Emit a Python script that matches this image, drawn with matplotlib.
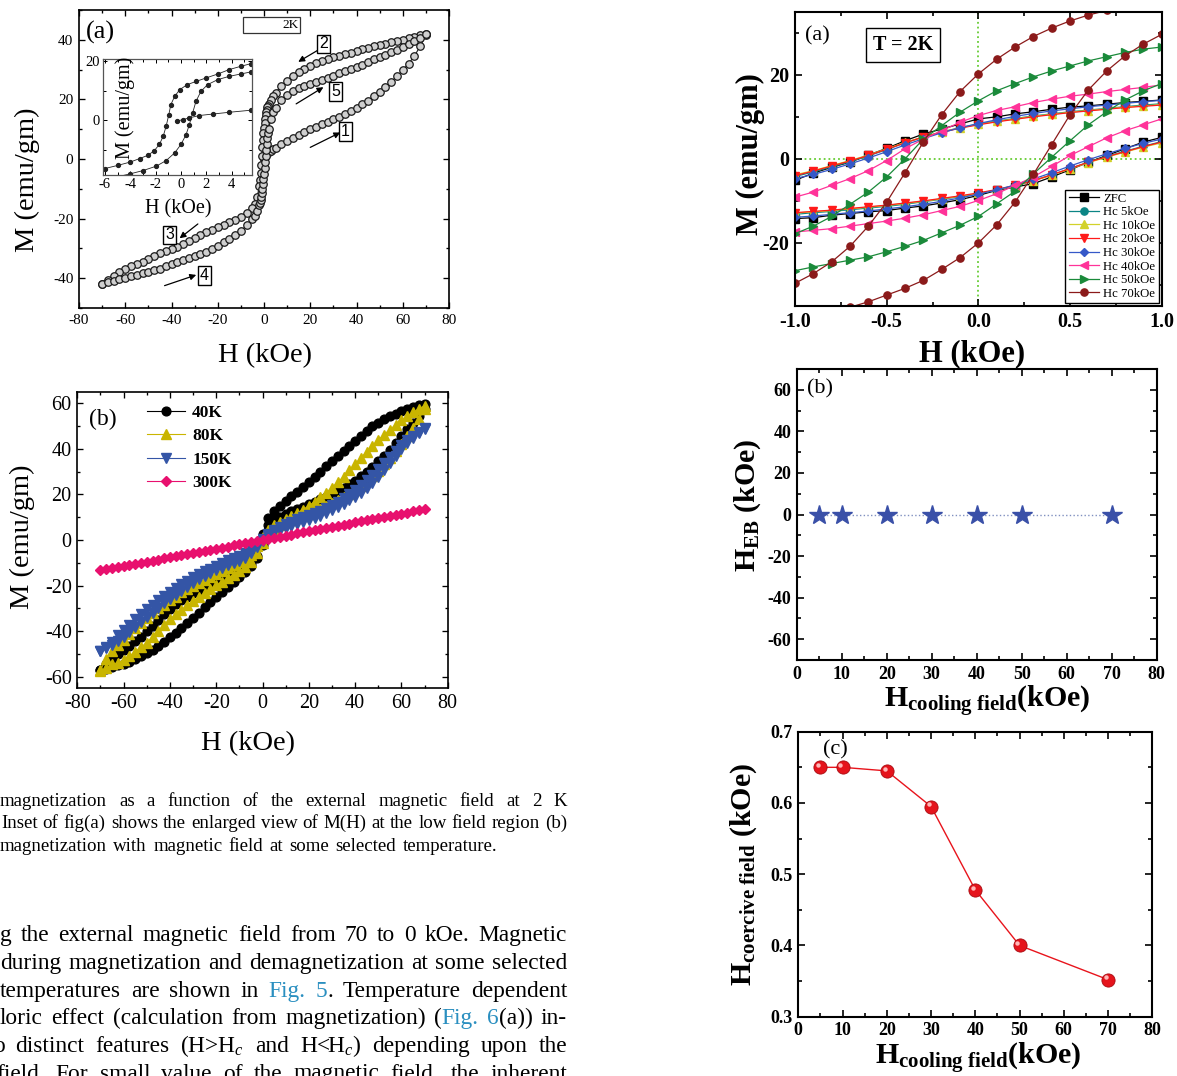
import matplotlib
matplotlib.use("Agg")
import matplotlib.pyplot as plt
from matplotlib.patches import Rectangle
from matplotlib.transforms import ScaledTranslation
from matplotlib.ticker import MultipleLocator
from matplotlib.font_manager import FontProperties

plt.rcParams['font.family'] = ['Liberation Serif', 'DejaVu Serif']
plt.rcParams['mathtext.fontset'] = 'custom'
plt.rcParams['mathtext.rm'] = 'Liberation Serif'
plt.rcParams['mathtext.it'] = 'Liberation Serif:italic'
plt.rcParams['mathtext.bf'] = 'Liberation Serif:bold'
plt.rcParams['axes.unicode_minus'] = False

# ---------------- DATA ----------------
# Fig (a) left: M(H) loop at 2 K
H_A_DESC = [70, 67.5, 65, 62.5, 60, 57.5, 55, 52.5, 50, 47.5, 45, 42.5, 40, 37.5, 35, 32.5, 30, 27.5, 25, 22.5,
            20, 17.5, 15, 12.5, 10, 7.5, 5, 4, 3,
            2, 1.75, 1.5, 1.25, 1, 0.75, 0.5, 0.25, 0, -0.25, -0.5, -0.75, -1, -1.25, -1.5, -1.75, -2,
            -3, -4, -5, -7.5, -10, -12.5, -15, -17.5, -20, -22.5, -25, -27.5, -30, -32.5, -35, -37.5, -40,
            -42.5, -45, -47.5, -50, -52.5, -55, -57.5, -60, -62.5, -65, -67.5, -70]
M_A_DESC = [42.0, 41.5, 41.1, 40.6, 40.1, 39.6, 39.2, 38.7, 38.3, 37.8, 37.3, 36.8, 36.3, 35.7, 35.2, 34.6, 34.1, 33.5, 32.9, 32.2,
            31.3, 30.3, 29.1, 27.9, 26.3, 24.6, 22.2, 21.2, 19.8,
            18.3, 17.8, 17.3, 16.6, 15.8, 14.8, 13.5, 12.2, 10.5, 8.7, 6.5, 4.0, 1.0, -2.0, -4.8, -7.2, -9.2,
            -12.8, -15.0, -16.3, -18.2, -19.4, -20.4, -21.2, -22.1, -22.9, -23.7, -24.6, -25.6, -26.5, -27.5, -28.5, -29.5, -30.3,
            -31.0, -31.7, -32.6, -33.5, -34.4, -35.2, -36.0, -36.9, -38.0, -39.2, -40.6, -42.0]
H_A_ASC = [-70, -67.5, -65, -62.5, -60, -57.5, -55, -52.5, -50, -47.5, -45, -42.5, -40, -37.5, -35, -32.5, -30, -27.5, -25, -22.5,
           -20, -17.5, -15, -12.5, -10, -7.5, -5, -4, -3,
           -2, -1.75, -1.5, -1.25, -1, -0.75, -0.5, -0.25, 0, 0.25, 0.5, 0.75, 1, 1.25, 1.5, 1.75, 2,
           3, 4, 5, 7.5, 10, 12.5, 15, 17.5, 20, 22.5, 25, 27.5, 30, 32.5, 35, 37.5, 40,
           42.5, 45, 47.5, 50, 52.5, 55, 57.5, 60, 62.5, 65, 67.5, 70]
M_A_ASC = [-42.0, -41.3, -40.8, -40.3, -39.9, -39.4, -38.9, -38.4, -37.9, -37.4, -36.8, -36.0, -35.3, -34.6, -33.9, -33.2, -32.6, -31.9, -31.1, -30.1,
           -29.1, -28.0, -26.9, -25.5, -24.1, -22.3, -20.2, -19.0, -17.6,
           -15.5, -14.7, -13.8, -12.8, -11.5, -10.1, -8.5, -6.8, -5.0, -3.0, -1.0, 1.0, 3.0, 5.0, 7.0, 8.6, 10.0,
           13.5, 15.8, 17.2, 19.8, 21.6, 22.9, 23.7, 24.5, 25.2, 25.8, 26.5, 27.3, 28.0, 28.7, 29.4, 30.1, 30.8,
           31.6, 32.5, 33.5, 34.2, 35.0, 35.8, 36.7, 37.7, 38.7, 39.6, 40.6, 41.8]
H_A_VIRGIN = [0, 0.5, 1, 1.5, 2, 3, 4, 5, 7.5, 10, 12.5, 15, 17.5, 20, 22.5, 25, 27.5, 30, 32.5, 35, 37.5, 40,
              42.5, 45, 47.5, 50, 52.5, 55, 57.5, 60, 62.5, 65, 67.5, 70]
M_A_VIRGIN = [0.0, 0.8, 1.5, 2.0, 2.3, 2.8, 3.3, 3.7, 4.9, 6.0, 7.2, 8.2, 9.2, 10.1, 10.9, 11.7, 12.5, 13.3, 14.1, 15.0, 16.1, 17.2,
              18.4, 19.6, 21.0, 22.5, 24.2, 25.9, 27.8, 29.8, 32.0, 34.5, 37.8, 41.5]

# Inset: low-field region
H_IN_DESC = [5.5, 4.7, 3.8, 2.9, 2.0, 1.2, 0.5, -0.1, -0.5, -0.8, -0.96, -1.17, -1.4, -1.7, -2.1, -2.6, -3.25, -4.0, -4.95, -6.0]
M_IN_DESC = [19.2, 18.3, 17.2, 15.7, 14.4, 13.2, 12.1, 10.4, 8.1, 5.3, 1.9, -2.0, -5.4, -8.2, -10.3, -11.9, -13.0, -14.2, -15.3, -16.4]
H_IN_ASC = [-6.0, -5.0, -4.0, -3.0, -1.95, -1.17, -0.5, 0.0, 0.4, 0.66, 0.92, 1.18, 1.57, 2.1, 2.9, 3.8, 4.7, 5.5]
M_IN_ASC = [-20.0, -19.2, -18.2, -17.1, -15.6, -13.7, -11.1, -8.2, -4.9, -1.5, 2.5, 6.4, 9.8, 12.1, 13.8, 14.9, 15.7, 16.4]
H_IN_VIRGIN = [-0.33, 0.14, 0.66, 1.44, 2.5, 3.8, 5.5]
M_IN_VIRGIN = [-0.3, 0.2, 0.8, 1.6, 2.1, 2.7, 3.4]

# Fig (b) left: loops at selected temperatures (field swept 70 -> -70 -> 70)
H_B = [-70, -67.5, -65, -62.5, -60, -57.5, -55, -52.5, -50, -47.5, -45, -42.5, -40, -37.5, -35, -32.5, -30, -27.5, -25,
       -22.5, -20, -17.5, -15, -12.5, -10, -7.5, -5, -2.5, 0, 2.5, 5, 7.5, 10, 12.5, 15, 17.5, 20, 22.5, 25, 27.5, 30,
       32.5, 35, 37.5, 40, 42.5, 45, 47.5, 50, 52.5, 55, 57.5, 60, 62.5, 65, 67.5, 70]
# values listed in order of increasing H (descending branch = upper at H>0)
M40_DESC = [-56.8, -54.3, -52.0, -50.0, -48.3, -46.5, -44.3, -42.3, -40.0, -37.6, -35.0, -32.5, -30.3, -28.2, -26.3, -24.8, -23.3, -21.9, -20.6,
            -19.2, -17.9, -16.6, -15.3, -14.0, -12.7, -11.3, -10.0, -7.0, 2.5, 9.5, 12.5, 14.8, 17.0, 19.1, 21.2, 23.3, 25.5, 27.8, 30.0, 32.3, 34.5,
            36.8, 39.0, 41.3, 43.5, 45.7, 47.8, 49.8, 51.5, 53.0, 54.2, 55.4, 56.5, 57.5, 58.3, 59.0, 59.5]
M40_ASC = [-56.8, -56.4, -55.8, -55.0, -54.2, -53.4, -52.3, -51.0, -49.5, -48.0, -46.5, -44.7, -42.6, -40.6, -38.4, -36.2, -34.0, -31.8, -29.5,
           -27.2, -25.0, -22.8, -20.5, -18.4, -16.3, -14.2, -11.5, -8.0, -2.0, 6.5, 9.0, 10.3, 11.5, 12.5, 13.5, 14.5, 15.6, 16.7, 17.8, 18.9, 20.2,
           21.5, 22.9, 24.4, 26.0, 27.9, 30.0, 32.2, 34.5, 37.0, 39.6, 42.5, 45.5, 48.5, 51.5, 54.5, 57.5]
M80_DESC = [-57.0, -52.0, -48.5, -46.2, -43.8, -41.3, -38.6, -36.3, -34.0, -32.0, -30.0, -28.5, -26.5, -24.8, -23.0, -21.5, -20.0, -18.8, -17.4,
            -16.1, -14.8, -13.5, -12.3, -11.0, -9.8, -8.5, -6.5, -2.5, 1.5, 4.5, 6.5, 7.8, 9.0, 10.4, 11.8, 13.3, 15.0, 16.8, 18.7, 20.8, 23.0,
            25.3, 27.8, 30.5, 33.2, 36.0, 38.7, 41.3, 43.8, 46.2, 48.4, 50.5, 52.4, 54.2, 55.9, 57.5, 58.8]
M80_ASC = [-57.5, -56.0, -54.5, -53.8, -52.8, -51.0, -49.0, -47.0, -45.0, -42.5, -39.8, -37.3, -34.8, -32.6, -30.6, -28.6, -26.7, -25.0, -23.2,
           -21.3, -19.8, -18.3, -16.7, -15.2, -13.7, -12.0, -9.5, -5.5, -1.5, 3.0, 5.0, 6.6, 7.8, 8.7, 9.6, 10.6, 11.6, 12.7, 13.7, 14.9, 16.1,
           17.4, 18.7, 20.2, 21.8, 23.7, 25.7, 28.0, 30.4, 33.2, 36.1, 39.1, 42.2, 45.5, 49.0, 53.0, 57.5]
M150_DESC = [-48.7, -46.8, -44.5, -41.8, -39.5, -37.1, -34.8, -32.6, -30.4, -28.3, -26.3, -24.4, -22.6, -20.9, -19.3, -17.8, -16.3, -15.0, -13.8,
             -12.5, -11.3, -10.0, -8.8, -7.9, -6.8, -5.6, -4.0, -2.0, 0.6, 2.6, 4.4, 5.8, 7.0, 8.0, 9.0, 9.9, 10.8, 11.8, 12.9, 14.1, 15.3,
             16.7, 18.3, 20.0, 21.9, 24.0, 26.2, 28.6, 31.0, 33.6, 36.3, 39.1, 41.6, 43.8, 45.6, 47.3, 49.0]
M150_ASC = [-48.7, -47.4, -45.9, -44.3, -42.5, -40.5, -38.3, -36.1, -33.9, -31.8, -29.8, -27.8, -25.9, -24.0, -22.2, -20.4, -18.8, -17.3, -15.9,
            -14.5, -13.3, -12.2, -11.1, -10.0, -9.0, -7.8, -5.7, -3.0, -0.6, 1.8, 3.3, 4.4, 5.3, 6.1, 6.9, 7.7, 8.6, 9.6, 10.7, 11.9, 13.1,
            14.4, 15.9, 17.4, 19.0, 20.8, 22.8, 25.1, 27.8, 30.6, 33.6, 36.8, 39.8, 42.5, 44.8, 46.8, 48.7]
M300 = [-13.3, -12.9, -12.4, -11.9, -11.4, -10.9, -10.5, -10.0, -9.5, -9.0, -8.6, -8.1, -7.6, -7.1, -6.7, -6.2, -5.7, -5.2, -4.8,
        -4.3, -3.8, -3.3, -2.9, -2.4, -1.9, -1.4, -1.0, -0.5, 0.0, 0.5, 1.0, 1.4, 1.9, 2.4, 2.9, 3.4, 3.8, 4.3, 4.8, 5.3, 5.8,
        6.2, 6.7, 7.2, 7.7, 8.2, 8.6, 9.1, 9.6, 10.1, 10.6, 11.1, 11.5, 12.0, 12.5, 13.0, 13.5]
TEMP_LABELS = ['40K', '80K', '150K', '300K']

# Right (a): low-field loops after field cooling, T = 2K
H_R = [-1.0, -0.9, -0.8, -0.7, -0.6, -0.5, -0.4, -0.3, -0.2, -0.1, 0.0, 0.1, 0.2, 0.3, 0.4, 0.5, 0.6, 0.7, 0.8, 0.9, 1.0]
ZFC_UP = [-5.1, -3.4, -2.0, -0.8, 0.9, 2.5, 4.3, 5.9, 7.1, 8.3, 9.5, 10.0, 10.7, 11.2, 11.8, 12.3, 12.6, 13.0, 13.4, 13.7, 14.0]
ZFC_LO = [-14.2, -14.0, -13.4, -13.0, -12.6, -12.3, -11.7, -11.2, -10.5, -9.7, -8.7, -7.5, -6.7, -5.9, -4.3, -2.6, -0.8, 0.8, 2.4, 4.0, 5.1]
HC5_UP = [-4.2, -3.1, -1.9, -0.7, 0.7, 2.2, 3.8, 5.2, 6.4, 7.4, 8.3, 9.0, 9.6, 10.2, 10.7, 11.2, 11.6, 12.0, 12.4, 12.8, 13.1]
HC5_LO = [-13.2, -12.8, -12.5, -12.1, -11.7, -11.3, -10.8, -10.2, -9.6, -9.0, -8.3, -7.4, -6.4, -5.2, -3.8, -2.3, -0.8, 0.6, 1.8, 3.0, 4.1]
HC10_UP = [-3.8, -2.8, -1.6, -0.4, 0.9, 2.4, 3.9, 5.2, 6.4, 7.4, 8.2, 8.9, 9.5, 10.1, 10.6, 11.1, 11.5, 11.9, 12.3, 12.6, 12.9]
HC10_LO = [-12.9, -12.6, -12.3, -11.9, -11.5, -11.1, -10.6, -10.1, -9.5, -8.9, -8.2, -7.4, -6.4, -5.2, -3.9, -2.4, -0.9, 0.4, 1.6, 2.8, 3.8]
HC20_UP = [-4.0, -2.9, -1.7, -0.5, 0.8, 2.3, 3.8, 5.2, 6.3, 7.3, 8.1, 8.8, 9.4, 10.0, 10.5, 11.0, 11.4, 11.8, 12.2, 12.5, 12.8]
HC20_LO = [-12.8, -12.5, -12.2, -11.8, -11.4, -11.0, -10.5, -10.0, -9.4, -8.8, -8.1, -7.3, -6.3, -5.2, -3.8, -2.3, -0.8, 0.5, 1.7, 2.9, 4.0]
HC30_UP = [-4.7, -3.7, -2.5, -1.2, 0.2, 1.7, 3.3, 4.8, 6.2, 7.4, 8.4, 9.3, 10.1, 10.8, 11.4, 11.9, 12.4, 12.8, 13.2, 13.6, 13.9]
HC30_LO = [-13.9, -13.6, -13.2, -12.8, -12.4, -11.9, -11.4, -10.8, -10.1, -9.3, -8.4, -7.4, -6.2, -4.8, -3.3, -1.7, -0.2, 1.2, 2.5, 3.7, 4.7]
HC40_UP = [-9.1, -7.9, -6.3, -4.7, -2.8, -0.4, 2.4, 4.7, 6.7, 8.7, 10.3, 11.5, 12.4, 13.4, 14.2, 14.9, 15.4, 16.0, 16.5, 17.0, 17.6]
HC40_LO = [-17.4, -17.0, -16.6, -16.0, -15.4, -14.8, -14.1, -13.3, -12.3, -11.3, -9.9, -8.3, -6.3, -4.3, -1.8, 0.8, 2.9, 5.0, 6.7, 8.1, 9.5]
HC50_UP = [-17.8, -16.0, -13.7, -10.8, -7.9, -4.3, 0.0, 4.7, 7.9, 11.1, 13.8, 16.2, 17.9, 19.5, 20.9, 22.1, 23.3, 24.3, 25.3, 26.1, 26.6]
HC50_LO = [-26.6, -25.7, -24.9, -24.1, -23.3, -22.1, -20.8, -19.4, -17.6, -15.8, -13.7, -10.7, -7.7, -3.6, 0.4, 4.3, 8.1, 11.2, 14.0, 16.2, 17.9]
HC70_UP = [-29.6, -27.3, -24.5, -20.8, -16.0, -10.3, -3.3, 4.0, 10.5, 16.0, 20.2, 23.7, 26.6, 29.1, 31.1, 32.8, 34.2, 35.3, 36.4, 37.2, 37.9]
HC70_LO = [-37.9, -37.2, -36.4, -35.3, -34.0, -32.4, -30.8, -28.9, -26.3, -23.5, -20.0, -15.7, -10.3, -3.7, 3.4, 10.5, 16.4, 20.9, 24.5, 27.3, 29.6]
FC_LABELS = ['ZFC', 'Hc 5kOe', 'Hc 10kOe', 'Hc 20kOe', 'Hc 30kOe', 'Hc 40kOe', 'Hc 50kOe', 'Hc 70kOe']

# Right (b), (c)
H_COOL = [5, 10, 20, 30, 40, 50, 70]
H_EB = [0, 0, 0, 0, 0, 0, 0]
H_COERCIVE = [0.650, 0.650, 0.645, 0.595, 0.478, 0.400, 0.352]

# ---------------- FIGURE ----------------
W, H = 1177, 1076
fig = plt.figure(figsize=(W / 100, H / 100), dpi=100)


def rect(l, t, r, b):
    return [l / W, 1 - b / H, (r - l) / W, (b - t) / H]


def fx(x):
    return x / W


def fy(y):
    return 1 - y / H


def style_axes(ax, lw=1.2, size=10.5, bold=False, maj=4, mnr=2.5):
    for s in ax.spines.values():
        s.set_linewidth(lw)
    ax.tick_params(which='both', direction='in', top=True, right=True, width=lw * 0.8)
    ax.tick_params(which='major', length=maj, labelsize=size, pad=4)
    ax.tick_params(which='minor', length=mnr)
    if bold:
        for lab in ax.get_xticklabels() + ax.get_yticklabels():
            lab.set_fontweight('bold')


# ---- Left (a)
ax_a = fig.add_axes(rect(79, 10, 449, 308))
bead = dict(marker='o', ms=5.4, mfc='#cfcfcf', mec='#1a1a1a', mew=0.9, color='#1a1a1a', lw=0.8)
ax_a.plot(H_A_VIRGIN, M_A_VIRGIN, **bead)
ax_a.plot(H_A_DESC, M_A_DESC, **bead)
ax_a.plot(H_A_ASC, M_A_ASC, **bead)
ax_a.set_xlim(-80, 80)
ax_a.set_ylim(-50, 50)
ax_a.xaxis.set_major_locator(MultipleLocator(20))
ax_a.xaxis.set_minor_locator(MultipleLocator(10))
ax_a.yaxis.set_major_locator(MultipleLocator(20))
ax_a.yaxis.set_minor_locator(MultipleLocator(10))
style_axes(ax_a, lw=1.2, size=11)
ax_a.text(-70.6, 42.6, '(a)', fontsize=19, ha='center', va='center')
ax_a.add_patch(Rectangle((-9.1, 42.3), 24.8, 5.4, fill=False, lw=0.9, ec='#333333'))
ax_a.text(11.3, 45.0, '2K', fontsize=9.5, ha='center', va='center')
box = dict(boxstyle='square,pad=0.12', fc='white', ec='black', lw=1.0)
numfont = dict(fontsize=11.5, family='Liberation Sans', ha='center', va='center', bbox=box)
arrow = dict(arrowstyle='-|>', color='black', lw=0.9, mutation_scale=9, shrinkA=0, shrinkB=0)
for lab, pos, tail, head in [('2', (25.7, 38.6), (23.5, 36.6), (14.8, 32.6)),
                             ('5', (30.9, 22.6), (13.9, 18.5), (25.7, 24.1)),
                             ('1', (35.2, 9.1), (20.0, 3.9), (33.0, 8.9)),
                             ('3', (-40.9, -25.5), (-28.6, -21.8), (-36.5, -26.6)),
                             ('4', (-25.7, -39.2), (-43.0, -42.5), (-29.3, -38.9))]:
    ax_a.annotate('', xy=head, xytext=tail, arrowprops=arrow)
    ax_a.text(pos[0], pos[1], lab, **numfont)

# ---- Inset
ins = fig.add_axes(rect(103, 59, 252, 175))
ins.plot(H_IN_VIRGIN, M_IN_VIRGIN, 'o-', color='#222222', ms=2.8, lw=0.6)
ins.plot(H_IN_DESC, M_IN_DESC, 'o-', color='#222222', ms=2.8, lw=0.6)
ins.plot(H_IN_ASC, M_IN_ASC, 'o-', color='#222222', ms=2.8, lw=0.6)
ins.set_xlim(-6.15, 5.6)
ins.set_ylim(-18.6, 20.8)
ins.xaxis.set_major_locator(MultipleLocator(2))
ins.xaxis.set_minor_locator(MultipleLocator(1))
ins.yaxis.set_major_locator(MultipleLocator(20))
ins.yaxis.set_minor_locator(MultipleLocator(10))
style_axes(ins, lw=0.9, size=10.5, maj=3, mnr=2)
ins.tick_params(pad=2)
for s in ins.spines.values():
    s.set_color('#555555')
fig.text(fx(125.5), fy(108), 'M (emu/gm)', rotation=90, ha='center', va='center', fontsize=14.5)
fig.text(fx(178), fy(209), 'H (kOe)', ha='center', va='center', fontsize=14.5)

fig.text(fx(27), fy(180), 'M (emu/gm)', rotation=90, ha='center', va='center', fontsize=20.5)
fig.text(fx(265), fy(356), 'H (kOe)', ha='center', va='center', fontsize=20.5)

# ---- Left (b)
ax_b = fig.add_axes(rect(77.3, 391.7, 447.7, 688.3))
series_b = [
    (M40_DESC, M40_ASC, '#000000', 'o', 6.3, TEMP_LABELS[0]),
    (M80_DESC, M80_ASC, '#c9b500', '^', 7.2, TEMP_LABELS[1]),
    (M150_DESC, M150_ASC, '#3455a6', 'v', 7.2, TEMP_LABELS[2]),
]
handles = []
for md, ma, col, mk, ms, lab in series_b:
    ax_b.plot(H_B[::-1], md[::-1], marker=mk, ms=ms, color=col, mec=col, lw=0.8)
    h, = ax_b.plot(H_B, ma, marker=mk, ms=ms, color=col, mec=col, lw=0.8)
    handles.append(h)
h, = ax_b.plot(H_B, M300, marker='D', ms=5.3, color='#e8106e', mec='#e8106e', lw=0.8)
handles.append(h)
ax_b.set_xlim(-80, 80)
ax_b.set_ylim(-65, 65)
ax_b.xaxis.set_major_locator(MultipleLocator(20))
ax_b.xaxis.set_minor_locator(MultipleLocator(10))
ax_b.yaxis.set_major_locator(MultipleLocator(20))
ax_b.yaxis.set_minor_locator(MultipleLocator(10))
style_axes(ax_b, lw=1.2, size=14.5)
ax_b.text(-69, 53, '(b)', fontsize=17, ha='center', va='center')
ax_b.legend(handles, TEMP_LABELS, loc='upper left', bbox_to_anchor=(0.165, 0.985), frameon=False,
            prop=FontProperties(family='Liberation Serif', weight='bold', size=12.5),
            handlelength=2.2, handletextpad=0.4, labelspacing=0.42, borderpad=0)
fig.text(fx(22), fy(537), 'M (emu/gm)', rotation=90, ha='center', va='center', fontsize=20.5)
fig.text(fx(248), fy(744), 'H (kOe)', ha='center', va='center', fontsize=20.5)

# ---- Right (a)
ax_ra = fig.add_axes(rect(795, 11.7, 1161.7, 306))
ax_ra.axhline(0, color='#66cc33', ls=':', lw=1.3, zorder=0)
ax_ra.axvline(0, color='#66cc33', ls=':', lw=1.3, zorder=0)
fc_series = [
    (ZFC_UP, ZFC_LO, '#000000', 's'),
    (HC5_UP, HC5_LO, '#0b8585', 'o'),
    (HC10_UP, HC10_LO, '#d2d22a', '^'),
    (HC20_UP, HC20_LO, '#ff1a1a', 'v'),
    (HC30_UP, HC30_LO, '#3558c8', 'D'),
    (HC40_UP, HC40_LO, '#ff3399', '<'),
    (HC50_UP, HC50_LO, '#1a8a3a', '>'),
    (HC70_UP, HC70_LO, '#8b1a1a', 'o'),
]
fc_handles = []
for (up, lo, col, mk), lab in zip(fc_series, FC_LABELS):
    ms = 5.2 if mk != 'D' else 4.5
    h, = ax_ra.plot(H_R, up, marker=mk, ms=ms, color=col, mec=col, lw=0.9, label=lab)
    ax_ra.plot(H_R, lo, marker=mk, ms=ms, color=col, mec=col, lw=0.9)
    fc_handles.append(h)
ax_ra.set_xlim(-1, 1)
ax_ra.set_ylim(-35, 35)
ax_ra.xaxis.set_major_locator(MultipleLocator(0.5))
ax_ra.xaxis.set_minor_locator(MultipleLocator(0.25))
ax_ra.yaxis.set_major_locator(MultipleLocator(20))
ax_ra.yaxis.set_minor_locator(MultipleLocator(10))
style_axes(ax_ra, lw=1.5, size=14.5, bold=True, maj=5, mnr=3)
leg = ax_ra.legend(fc_handles, FC_LABELS, loc='lower right', fontsize=9.2, frameon=True, fancybox=False,
                   edgecolor='black', framealpha=1, borderpad=0.25, labelspacing=0.12,
                   handlelength=2.4, handletextpad=0.3, borderaxespad=0.25)
leg.get_frame().set_linewidth(1.0)
ax_ra.text(-0.88, 29.2, '(a)', fontsize=16, ha='center', va='center')
ax_ra.text(-0.41, 27.1, 'T = 2K', fontsize=14.5, fontweight='bold', ha='center', va='center',
           bbox=dict(boxstyle='square,pad=0.35', fc='white', ec='black', lw=1.0))
fig.text(fx(750), fy(154), 'M (emu/gm)', rotation=90, ha='center', va='center', fontsize=22, fontweight='bold')
fig.text(fx(972), fy(361), 'H (kOe)', ha='center', va='baseline', fontsize=22, fontweight='bold')

# ---- Right (b)
ax_rb = fig.add_axes(rect(796.7, 369, 1156.7, 660))
ax_rb.plot(H_COOL, H_EB, ':', color='#8090c0', lw=1.0)
ax_rb.plot(H_COOL, H_EB, '*', ms=15, color='#3a50a8', ls='none')
ax_rb.set_xlim(0, 80)
ax_rb.set_ylim(-70, 70)
ax_rb.xaxis.set_major_locator(MultipleLocator(10))
ax_rb.xaxis.set_minor_locator(MultipleLocator(5))
ax_rb.yaxis.set_major_locator(MultipleLocator(20))
ax_rb.yaxis.set_minor_locator(MultipleLocator(10))
style_axes(ax_rb, lw=1.5, size=13, bold=True, maj=5, mnr=3)
ax_rb.text(5.2, 60.5, '(b)', fontsize=16, ha='center', va='center')
fig.text(fx(748), fy(505), r'H$_{\mathbf{EB}}$ (kOe)', rotation=90, ha='center', va='center',
         fontsize=21.5, fontweight='bold')
fig.text(fx(987), fy(708), r'H$_{\mathbf{cooling\ field}}$(kOe)', ha='center', va='baseline',
         fontsize=21.5, fontweight='bold')

# ---- Right (c)
ax_rc = fig.add_axes(rect(798.3, 731.7, 1152.3, 1016.7))
ax_rc.plot(H_COOL, H_COERCIVE, '-', color='#e8141c', lw=1.0)
ax_rc.plot(H_COOL, H_COERCIVE, 'o', ms=9.5, mfc='#e5141c', mec='#a80a10', mew=0.6, ls='none')
hl = ax_rc.transData + ScaledTranslation(-1.6 / 72, 1.6 / 72, fig.dpi_scale_trans)
ax_rc.plot(H_COOL, H_COERCIVE, 'o', ms=3.2, color='#ffb8b8', mec='none', ls='none', transform=hl)
ax_rc.set_xlim(0, 80)
ax_rc.set_ylim(0.3, 0.7)
ax_rc.xaxis.set_major_locator(MultipleLocator(10))
ax_rc.xaxis.set_minor_locator(MultipleLocator(5))
ax_rc.yaxis.set_major_locator(MultipleLocator(0.1))
ax_rc.yaxis.set_minor_locator(MultipleLocator(0.05))
style_axes(ax_rc, lw=1.5, size=13, bold=True, maj=5, mnr=3)
ax_rc.text(8.3, 0.674, '(c)', fontsize=16, ha='center', va='center')
fig.text(fx(744), fy(874), r'H$_{\mathbf{coercive\ field}}$ (kOe)', rotation=90, ha='center', va='center',
         fontsize=21.5, fontweight='bold')
fig.text(fx(978), fy(1065), r'H$_{\mathbf{cooling\ field}}$(kOe)', ha='center', va='baseline',
         fontsize=21.5, fontweight='bold')

# ---------------- Caption and body text ----------------
BLUE = '#2a8fc0'
renderer = fig.canvas.get_renderer()


def measure(t, size):
    tt = fig.text(0, 0, t, fontsize=size)
    w = tt.get_window_extent(renderer).width
    tt.remove()
    return w


def justify(words, x0, x1, ybase, size):
    words = [w if isinstance(w, list) else [(w, 'black')] for w in words]
    while True:
        seg_w = [[measure(t, size) for t, c in w] for w in words]
        tot = sum(sum(s) for s in seg_w)
        space = measure('a b', size) - measure('ab', size)
        gap = (x1 - x0 - tot) / max(len(words) - 1, 1)
        if gap >= space * 0.8 or size < 6:
            break
        size *= 0.98
    x = x0
    for w, ws in zip(words, seg_w):
        for (t, c), sw in zip(w, ws):
            fig.text(fx(x), fy(ybase), t, fontsize=size, color=c, ha='left', va='baseline')
            x += sw
        x += gap


CAP = 13.6
justify('magnetization as a function of the external magnetic field at 2 K'.split(), 0, 567, 805.7, CAP)
justify('Inset of fig(a) shows the enlarged view of M(H) at the low field region (b)'.split(), 1, 567, 828.3, CAP)
justify('magnetization with magnetic field at some selected temperature.'.split(), 0, 497, 851, CAP)

PS = 16.8
justify('g the external magnetic field from 70 to 0 kOe. Magnetic'.split(), 0, 567, 940.7, PS)
justify('during magnetization and demagnetization at some selected'.split(), 0, 567, 968.7, PS)
justify(['temperatures', 'are', 'shown', 'in', [('Fig.', BLUE)], [('5', BLUE), ('.', 'black')],
         'Temperature', 'dependent'], 0, 567, 996.7, PS)
justify(['loric', 'effect', '(calculation', 'from', 'magnetization)', [('(', 'black'), ('Fig.', BLUE)],
         [('6', BLUE), ('(a))', 'black')], 'in-'], 0, 567, 1024.3, PS)
justify(['o', 'distinct', 'features', r'(H>H$_c$', 'and', r'H<H$_c$)', 'depending', 'upon', 'the'],
        -7, 567, 1052, PS)
justify('field. For small value of the magnetic field, the inherent'.split(), -4, 567, 1079.5, PS)

fig.savefig('out.png', dpi=100)
